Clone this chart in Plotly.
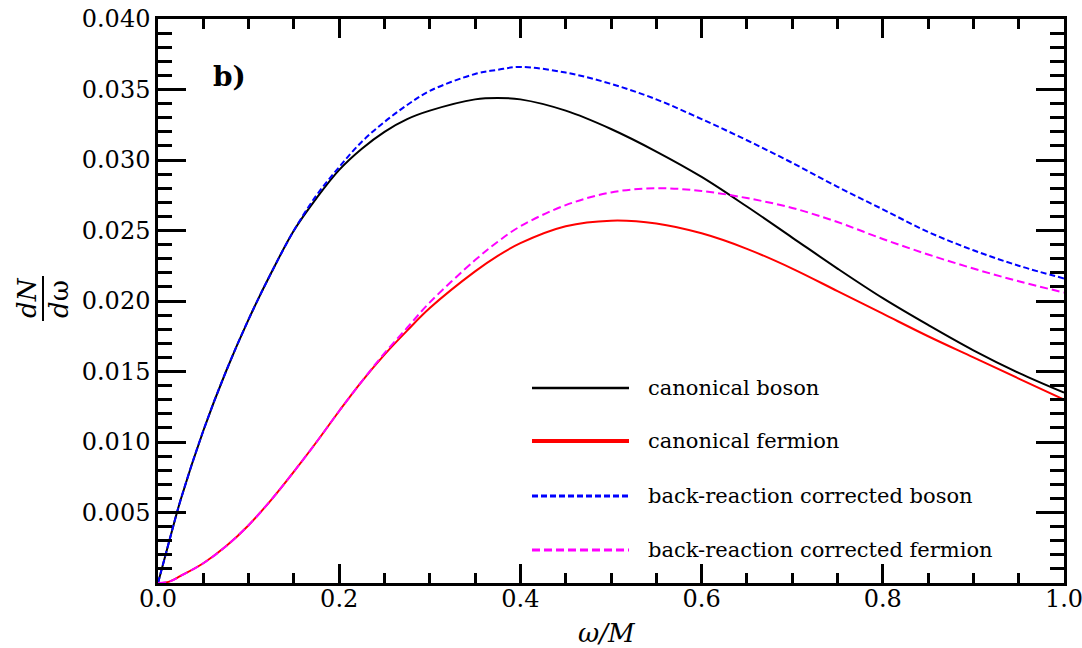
import plotly.graph_objects as go

# ---------------- data ----------------
omega_grid = [0.0, 0.0125, 0.025, 0.05, 0.075, 0.1, 0.125, 0.15, 0.175, 0.2, 0.225, 0.25,
              0.275, 0.3, 0.35, 0.375, 0.4, 0.45, 0.5, 0.55, 0.6, 0.65, 0.7, 0.75, 0.8,
              0.85, 0.9, 0.95, 1.0]

boson_y = [0.0, 0.0030, 0.0059, 0.0108, 0.0150, 0.0187, 0.0220, 0.0250, 0.0273, 0.0293, 0.0308, 0.0320,
           0.0329, 0.0335, 0.0343, 0.0344, 0.0343, 0.0335, 0.0322, 0.0306, 0.0288, 0.0267, 0.0245, 0.0223, 0.0202,
           0.0183, 0.0165, 0.0149, 0.0135]

br_boson_y = [0.0, 0.0030, 0.0059, 0.0108, 0.0150, 0.0187, 0.0220, 0.0250, 0.0275, 0.0295, 0.0313, 0.0327,
              0.0339, 0.0349, 0.0361, 0.0364, 0.0366, 0.0362, 0.0354, 0.0343, 0.0329, 0.0314, 0.0298, 0.0281, 0.0265,
              0.0249, 0.0236, 0.0225, 0.0216]

fermion_y = [0.0, 0.0001, 0.0005, 0.0014, 0.0026, 0.0041, 0.0059, 0.0079, 0.0100, 0.0122, 0.0143, 0.0162,
             0.0179, 0.0195, 0.0221, 0.0232, 0.0241, 0.0253, 0.0257, 0.0255, 0.0248, 0.0237, 0.0223, 0.0207, 0.0191,
             0.0175, 0.0160, 0.0145, 0.0130]

br_fermion_y = [0.0, 0.0001, 0.0005, 0.0014, 0.0026, 0.0041, 0.0059, 0.0079, 0.0100, 0.0122, 0.0143, 0.0163,
                0.0181, 0.0199, 0.0229, 0.0242, 0.0253, 0.0268, 0.0277, 0.0280, 0.0278, 0.0273, 0.0266, 0.0256, 0.0244,
                0.0233, 0.0223, 0.0214, 0.0206]

series_names = ["canonical boson", "canonical fermion",
                "back-reaction corrected boson", "back-reaction corrected fermion"]
series_colors = ["#000000", "#ff0000", "#0000ff", "#ff00ff"]
series_dash = ["solid", "solid", "6px,3px", "8px,4px"]

x_tickvals = [0.0, 0.2, 0.4, 0.6, 0.8, 1.0]
y_tickvals = [0.005, 0.010, 0.015, 0.020, 0.025, 0.030, 0.035, 0.040]

# ---------------- figure ----------------
W, H = 1082, 648
L, R, T, B = 158, 1064, 19, 583   # plot area in pixels


def xp(px):
    return (px - L) / (R - L)


def yp(py):
    return (B - py) / (B - T)


FONT = "DejaVu Serif"
fig = go.Figure()

series_y = [boson_y, fermion_y, br_boson_y, br_fermion_y]
for ys, name, col, dash in zip(series_y, series_names, series_colors, series_dash):
    fig.add_trace(go.Scatter(x=omega_grid, y=ys, mode="lines", name=name, showlegend=False,
                             line=dict(color=col, width=2, dash=dash, shape="spline", smoothing=1.0)))

axis_common = dict(showline=True, linecolor="black", linewidth=2.5, mirror="allticks",
                   ticks="inside", tickwidth=2.5, tickcolor="black", showgrid=False,
                   zeroline=False, ticklabeloverflow="allow", automargin=False,
                   tickfont=dict(family=FONT, size=24, color="black"))

fig.update_xaxes(range=[0, 1], tickvals=x_tickvals,
                 ticktext=[f"{v:.1f}" for v in x_tickvals], ticklen=19,
                 ticklabelstandoff=-8,
                 minor=dict(ticks="inside", ticklen=10, tickwidth=2.5, tickcolor="black",
                            dtick=0.05, tick0=0),
                 **axis_common)
fig.update_yaxes(range=[0, 0.04], tickvals=y_tickvals,
                 ticktext=[f"{v:.3f}" for v in y_tickvals], ticklen=28,
                 minor=dict(ticks="inside", ticklen=14, tickwidth=2.5, tickcolor="black",
                            dtick=0.001, tick0=0),
                 **axis_common)

annotations = []
shapes = []

# panel label
annotations.append(dict(x=xp(229), y=yp(76), xref="paper", yref="paper", text="<b>b)</b>",
                        showarrow=False, font=dict(family=FONT, size=28, color="black"),
                        xanchor="center", yanchor="middle"))
# x title
annotations.append(dict(x=xp(607), y=yp(633), xref="paper", yref="paper",
                        text="<i>ω/M</i>", showarrow=False,
                        font=dict(family=FONT, size=26, color="black"),
                        xanchor="center", yanchor="middle"))
# y title as a rotated fraction dN / dω
annotations.append(dict(x=xp(27), y=yp(298), xref="paper", yref="paper",
                        text="<i>dN</i>", showarrow=False, textangle=-90,
                        font=dict(family=FONT, size=26, color="black"),
                        xanchor="center", yanchor="middle"))
annotations.append(dict(x=xp(59), y=yp(299), xref="paper", yref="paper",
                        text="<i>d</i>ω", showarrow=False, textangle=-90,
                        font=dict(family=FONT, size=26, color="black"),
                        xanchor="center", yanchor="middle"))
shapes.append(dict(type="line", xref="paper", yref="paper",
                   x0=xp(43), x1=xp(43), y0=yp(276), y1=yp(321),
                   line=dict(color="black", width=2)))

# legend (drawn manually to match the long line samples)
leg_rows = [388, 441, 496, 550]
leg_widths = [2.5, 4, 3, 3]
for name, col, dash, row, lw in zip(series_names, series_colors, series_dash, leg_rows, leg_widths):
    shapes.append(dict(type="line", xref="paper", yref="paper",
                       x0=xp(532), x1=xp(629), y0=yp(row), y1=yp(row),
                       line=dict(color=col, width=lw, dash=dash)))
    annotations.append(dict(x=xp(646), y=yp(row), xref="paper", yref="paper", text=name,
                            showarrow=False, font=dict(family=FONT, size=21, color="black"),
                            xanchor="left", yanchor="middle"))

fig.update_layout(width=W, height=H, autosize=False,
                  margin=dict(l=L, r=W - R, t=T, b=H - B, pad=0, autoexpand=False),
                  paper_bgcolor="white", plot_bgcolor="white",
                  annotations=annotations, shapes=shapes, showlegend=False)

fig.write_html("out.html")
